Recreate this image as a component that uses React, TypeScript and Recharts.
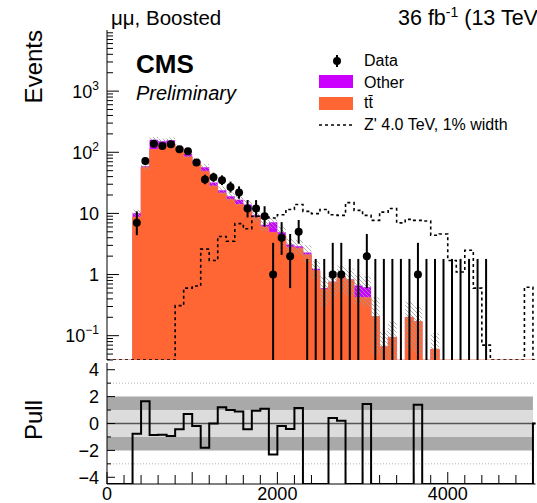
import {
  ComposedChart,
  Area,
  Line,
  Scatter,
  ErrorBar,
  XAxis,
  YAxis,
  ReferenceArea,
  ReferenceLine,
} from 'recharts';

// lower edges of the 100 GeV bins (last one is the overflow column at the frame)
const binLow = [
  0, 100, 200, 300, 400, 500, 600, 700, 800, 900,
  1000, 1100, 1200, 1300, 1400, 1500, 1600, 1700, 1800, 1900,
  2000, 2100, 2200, 2300, 2400, 2500, 2600, 2700, 2800, 2900,
  3000, 3100, 3200, 3300, 3400, 3500, 3600, 3700, 3800, 3900,
  4000, 4100, 4200, 4300, 4400, 4500, 4600, 4700, 4800, 4900, 5000,
];
const BIN_WIDTH = 100;

const ttbar = [
  0, 0, 0, 8.7, 57, 111, 130, 135, 113, 84,
  65, 49, 28, 21.5, 17, 14, 11, 8.7, 6.0, 4.9,
  4.35, 2.8, 2.7, 2.1, 1.16, 0.58, 0.75, 0.93, 0.82, 0.42,
  0.42, 0.205, 0.066, 0.094, 0, 0.2, 0.17, 0, 0.06, 0,
  0, 0, 0, 0, 0, 0, 0, 0, 0, 0, 0,
];
const other = [
  0, 0, 0, 1.4, 2, 50, 21, 22, 6, 10,
  7, 8, 4, 2.5, 2, 2.7, 3, 0.6, 0.5, 2.3,
  0.55, 0.3, 0.2, 0.2, 0.08, 0.02, 0.01, 0.01, 0.01, 0.24,
  0.2, 0, 0, 0, 0, 0, 0, 0, 0, 0,
  0, 0, 0, 0, 0, 0, 0, 0, 0, 0, 0,
];
// hatched systematic band around the stack
const bandHigh = [
  null, null, null, 11.5, 66, 178, 167, 174, 133, 105,
  81, 64, 36.5, 27.5, 22, 19.5, 16.5, 11.2, 7.9, 8.8,
  6.1, 3.9, 3.7, 3.0, 1.65, 0.95, 1.15, 1.4, 1.25, 1.0,
  0.93, 0.42, 0.12, 0.17, null, 0.36, 0.3, null, 0.11, null,
  null, null, null, null, null, null, null, null, null, null, null,
];
const bandLow = [
  null, null, null, 8.7, 52, 145, 136, 141, 106, 83,
  63, 50, 27.5, 20.5, 16, 14, 11.5, 7.4, 5.1, 5.6,
  3.7, 2.3, 2.1, 1.6, 0.85, 0.3, 0.4, 0.5, 0.45, 0.33,
  0.3, 0.05, 0.04, 0.04, null, 0.06, 0.05, null, 0.04, null,
  null, null, null, null, null, null, null, null, null, null, null,
];
const zPrime = [
  0, 0, 0, 0, 0, 0, 0, 0, 0.31, 0.6,
  0.65, 2.6, 1.7, 4.2, 3.5, 6.8, 5.6, 9.0, 8.7, 8.4,
  9.5, 11.6, 14, 10.8, 9.9, 11.6, 9.5, 9.3, 15, 11.2,
  9.3, 7.7, 10.5, 12, 7.0, 8.0, 7.7, 7.5, 4.4, 4.6,
  1.7, 1.1, 2.5, 0.6, 0.07, 0, 0, 0, 0, 0.62, 0,
];
const dataCounts = [
  null, null, null, 7, 72, 138, 127, 135, 112, 104,
  68, 36, 39, 35, 27, 22, 12, 12, 9, 1,
  4, 2, 5, 0, 0, 0, 1, 1, 0, 0,
  2, 0, 0, 0, 0, 0, 1, 0, 0, 0,
  0, 0, 0, 0, 0, null, null, null, null, null, null,
];
const dataLow = [
  null, null, null, 4.4, 63.5, 126.3, 115.8, 123.4, 101.4, 93.8,
  59.8, 30.0, 32.8, 29.1, 21.9, 17.4, 8.6, 8.6, 6.1, 0,
  2.1, 0.6, 3.2, 0, 0, 0, 0, 0, 0, 0,
  0.6, 0, 0, 0, 0, 0, 0, 0, 0, 0,
  0, 0, 0, 0, 0, null, null, null, null, null, null,
];
const dataHigh = [
  null, null, null, 10.8, 81.5, 150.3, 138.8, 147.1, 123.6, 115.2,
  77.3, 43.0, 46.3, 41.9, 33.1, 27.7, 16.5, 16.5, 13.1, 3.3,
  7.2, 4.6, 7.8, 1.8, 1.8, 1.8, 3.3, 3.3, 1.8, 1.8,
  4.6, 1.8, 1.8, 1.8, 1.8, 1.8, 3.3, 1.8, 1.8, 1.8,
  1.8, 1.8, 1.8, 1.8, 1.8, null, null, null, null, null, null,
];
// -4.5 = below the pad range
const pull = [
  -4.5, -4.5, -4.5, -0.76, 1.65, -0.85, -0.83, -0.93, -0.43, 0.7,
  -0.18, -1.8, 0.0, 1.2, 1.0, 0.9, -0.43, 0.95, 1.1, -2.3,
  -0.18, -0.4, 1.15, -4.5, -4.5, -4.5, 0.4, 0.2, -4.5, -4.5,
  1.45, -4.5, -4.5, -4.5, -4.5, -4.5, 1.4, -4.5, -4.5, -4.5,
  -4.5, -4.5, -4.5, -4.5, -4.5, -4.5, -4.5, -4.5, -4.5, -4.5, 0,
];

const xTicks = [
  0, 200, 400, 600, 800, 1000, 1200, 1400, 1600, 1800, 2000, 2200, 2400,
  2600, 2800, 3000, 3200, 3400, 3600, 3800, 4000, 4200, 4400, 4600, 4800, 5000,
];
const xLabels = [0, 2000, 4000];
const decades = [0.01, 0.1, 1, 10, 100, 1000];
const decadeLabels: Record<string, [string, string]> = {
  '0.1': ['10', '\u22121'],
  '1': ['1', ''],
  '10': ['10', ''],
  '100': ['10', '2'],
  '1000': ['10', '3'],
};
const pullTicks = [-4, -3, -2, -1, 0, 1, 2, 3, 4];

const X_MAX = 5030;
const Y_MIN = 0.04;
const Y_MAX = 10000;
const FONT = '"Liberation Sans", Arial, Helvetica, sans-serif';
const TT_COLOR = '#ff6633';
const OTHER_COLOR = '#cc00ff';

const logTicks = decades
  .flatMap((d) => [2, 3, 4, 5, 6, 7, 8, 9].map((m) => m * d).concat(d))
  .filter((v) => v >= Y_MIN && v <= Y_MAX)
  .sort((a, b) => a - b);

// histogram outline: one row at each edge of every bin
const rows = binLow.flatMap((lo, i) =>
  [lo, lo + BIN_WIDTH].map((x) => ({
    x,
    tt: ttbar[i],
    tot: ttbar[i] + other[i],
    bandLo: bandLow[i],
    bandHi: bandHigh[i],
    zp: zPrime[i],
    pull: pull[i],
  }))
);

const points = binLow
  .map((lo, i) => ({ x: lo + BIN_WIDTH / 2, n: dataCounts[i], lo: dataLow[i], hi: dataHigh[i] }))
  .filter((p) => p.n !== null);
const filledPoints = points
  .filter((p) => (p.n as number) > 0)
  .map((p) => ({ x: p.x, y: p.n, err: [(p.n as number) - Math.max(p.lo as number, Y_MIN), (p.hi as number) - (p.n as number)] }));
const emptyPoints = points
  .filter((p) => p.n === 0)
  .map((p) => ({ x: p.x, y: Y_MIN, err: [0, (p.hi as number) - Y_MIN] }));

const isDecade = (v: number) => decadeLabels[String(v)] !== undefined;

const LeftLogTick = ({ x, y, payload }: any) => {
  const lab = decadeLabels[String(payload.value)];
  return (
    <g>
      <line x1={x} x2={x + (lab ? 12 : 6)} y1={y} y2={y} stroke="#000" />
      {lab && (
        <text x={99} y={y + 6.5} textAnchor="end" fontFamily={FONT} fontSize={18} fill="#000">
          {lab[0]}
          {lab[1] && (
            <tspan dy={-8} fontSize={12}>
              {lab[1]}
            </tspan>
          )}
        </text>
      )}
    </g>
  );
};

const RightLogTick = ({ x, y, payload }: any) => (
  <line x1={x} x2={x - (isDecade(payload.value) ? 12 : 6)} y1={y} y2={y} stroke="#000" />
);

const BottomTick = (len: number, minorLen: number, labels: boolean) => ({ x, y, payload }: any) => (
  <g>
    <line x1={x} x2={x} y1={y} y2={y - (payload.value % 1000 === 0 ? len : minorLen)} stroke="#000" />
    {labels && xLabels.includes(payload.value) && (
      <text x={x} y={y + 16} textAnchor="middle" fontFamily={FONT} fontSize={18} fill="#000">
        {payload.value}
      </text>
    )}
  </g>
);

const TopTick = (len: number, minorLen: number) => ({ x, y, payload }: any) => (
  <line x1={x} x2={x} y1={y} y2={y + (payload.value % 1000 === 0 ? len : minorLen)} stroke="#000" />
);

const PullLeftTick = ({ x, y, payload }: any) => {
  const even = payload.value % 2 === 0;
  return (
    <g>
      <line x1={x} x2={x + (even ? 8 : 4)} y1={y} y2={y} stroke="#000" />
      {even && (
        <text x={99} y={y + 6.5} textAnchor="end" fontFamily={FONT} fontSize={18} fill="#000">
          {payload.value < 0 ? `\u2212${-payload.value}` : payload.value}
        </text>
      )}
    </g>
  );
};

const PullRightTick = ({ x, y, payload }: any) => (
  <line x1={x} x2={x - (payload.value % 2 === 0 ? 8 : 4)} y1={y} y2={y} stroke="#000" />
);

const DataDot = ({ cx, cy }: any) => <circle cx={cx} cy={cy} r={4} fill="#000" />;
const NoDot = () => <g />;

const axisCommon = {
  tickLine: false,
  tickSize: 0,
  tickMargin: 0,
  interval: 0 as const,
  axisLine: { stroke: '#000' },
};

const App = () => (
  <div style={{ position: 'absolute', left: 0, top: 0, width: 537, height: 503, background: '#fff', overflow: 'hidden' }}>
    <div style={{ position: 'absolute', left: 0, top: 0 }}>
      <ComposedChart width={537} height={363} data={rows} margin={{ top: 30, right: 1.5, bottom: 3, left: 0 }}>
        <defs>
          <pattern id="hatch" width={4} height={4} patternUnits="userSpaceOnUse">
            <path d="M-1,-1 L5,5 M-1,3 L1,5 M3,-1 L5,1" stroke="#9a9a9a" strokeWidth={0.8} />
          </pattern>
        </defs>
        <Area
          xAxisId="b"
          yAxisId="l"
          dataKey={(r: any) => Math.max(r.tot, Y_MIN)}
          baseValue={Y_MIN}
          fill={OTHER_COLOR}
          fillOpacity={1}
          stroke="none"
          isAnimationActive={false}
        />
        <Area
          xAxisId="b"
          yAxisId="l"
          dataKey={(r: any) => Math.max(r.tt, Y_MIN)}
          baseValue={Y_MIN}
          fill={TT_COLOR}
          fillOpacity={1}
          stroke="#f26d5b"
          strokeWidth={1}
          isAnimationActive={false}
        />
        <Area
          xAxisId="b"
          yAxisId="l"
          dataKey={(r: any) => (r.bandLo === null ? null : [r.bandLo, r.bandHi])}
          fill="url(#hatch)"
          fillOpacity={1}
          stroke="none"
          isAnimationActive={false}
        />
        <Line
          xAxisId="b"
          yAxisId="l"
          dataKey={(r: any) => Math.max(r.zp, Y_MIN)}
          stroke="#000"
          strokeWidth={1.6}
          strokeDasharray="3 3"
          dot={false}
          isAnimationActive={false}
        />
        <Scatter xAxisId="b" yAxisId="l" data={emptyPoints} dataKey="y" shape={NoDot} isAnimationActive={false}>
          <ErrorBar dataKey="err" direction="y" width={0} stroke="#000" strokeWidth={2} />
        </Scatter>
        <Scatter xAxisId="b" yAxisId="l" data={filledPoints} dataKey="y" shape={DataDot} isAnimationActive={false}>
          <ErrorBar dataKey="err" direction="y" width={0} stroke="#000" strokeWidth={2} />
        </Scatter>
        <XAxis
          {...axisCommon}
          xAxisId="b"
          dataKey="x"
          type="number"
          domain={[0, X_MAX]}
          allowDataOverflow
          ticks={xTicks}
          height={0}
          tick={BottomTick(12, 6, false)}
        />
        <XAxis
          {...axisCommon}
          xAxisId="t"
          orientation="top"
          dataKey="x"
          type="number"
          domain={[0, X_MAX]}
          allowDataOverflow
          ticks={xTicks}
          height={0}
          tick={TopTick(10, 5)}
        />
        <YAxis
          {...axisCommon}
          yAxisId="l"
          type="number"
          scale="log"
          domain={[Y_MIN, Y_MAX]}
          allowDataOverflow
          ticks={logTicks}
          width={107}
          tick={LeftLogTick}
        />
        <YAxis
          {...axisCommon}
          yAxisId="r"
          orientation="right"
          type="number"
          scale="log"
          domain={[Y_MIN, Y_MAX]}
          allowDataOverflow
          ticks={logTicks}
          width={0}
          tick={RightLogTick}
        />
      </ComposedChart>
    </div>
    <div style={{ position: 'absolute', left: 0, top: 353 }}>
      <ComposedChart width={537} height={150} data={rows} margin={{ top: 10, right: 1.5, bottom: 0, left: 0 }}>
        <ReferenceArea xAxisId="b" yAxisId="l" x1={0} x2={5000} y1={-2} y2={2} fill="#a9a9a9" fillOpacity={1} stroke="none" />
        <ReferenceArea xAxisId="b" yAxisId="l" x1={0} x2={5000} y1={-1} y2={1} fill="#dcdcdc" fillOpacity={1} stroke="none" />
        <ReferenceLine xAxisId="b" yAxisId="l" y={3} stroke="#b0b0b0" strokeDasharray="1 2" />
        <ReferenceLine xAxisId="b" yAxisId="l" y={-3} stroke="#b0b0b0" strokeDasharray="1 2" />
        <ReferenceLine xAxisId="b" yAxisId="l" y={0} stroke="#555" strokeWidth={1.3} />
        <Line
          xAxisId="b"
          yAxisId="l"
          dataKey="pull"
          stroke="#000"
          strokeWidth={2}
          dot={false}
          isAnimationActive={false}
        />
        <XAxis
          {...axisCommon}
          xAxisId="b"
          dataKey="x"
          type="number"
          domain={[0, X_MAX]}
          allowDataOverflow
          ticks={xTicks}
          height={19}
          tick={BottomTick(12, 9, true)}
        />
        <XAxis
          {...axisCommon}
          xAxisId="t"
          orientation="top"
          dataKey="x"
          type="number"
          domain={[0, X_MAX]}
          allowDataOverflow
          ticks={xTicks}
          height={0}
          tick={TopTick(12, 9)}
        />
        <YAxis
          {...axisCommon}
          yAxisId="l"
          type="number"
          domain={[-4.5, 4.5]}
          allowDataOverflow
          ticks={pullTicks}
          width={107}
          tick={PullLeftTick}
        />
        <YAxis
          {...axisCommon}
          yAxisId="r"
          orientation="right"
          type="number"
          domain={[-4.5, 4.5]}
          allowDataOverflow
          ticks={pullTicks}
          width={0}
          tick={PullRightTick}
        />
      </ComposedChart>
    </div>
    <svg
      width={537}
      height={503}
      style={{ position: 'absolute', left: 0, top: 0, pointerEvents: 'none' }}
      fontFamily={FONT}
    >
      <text x={111} y={25} fontSize={20.5}>
        {'\u03bc\u03bc, Boosted'}
      </text>
      <text x={398} y={25} fontSize={21.5}>
        36 fb
        <tspan dy={-8} fontSize={14}>
          -1
        </tspan>
        <tspan dy={8}> (13 TeV)</tspan>
      </text>
      <text x={136} y={73} fontSize={26} fontWeight="bold">
        CMS
      </text>
      <text x={136} y={100} fontSize={20} fontStyle="italic">
        Preliminary
      </text>

      <line x1={337} x2={337} y1={55} y2={67} stroke="#000" strokeWidth={2} />
      <circle cx={337} cy={61} r={4} fill="#000" />
      <text x={364} y={66} fontSize={16}>
        Data
      </text>
      <rect x={319} y={75} width={34} height={13} fill={OTHER_COLOR} />
      <text x={364} y={88} fontSize={16}>
        Other
      </text>
      <rect x={319} y={97} width={34} height={13} fill={TT_COLOR} />
      <text x={364} y={108} fontSize={16}>
        {'tt\u0304'}
      </text>
      <line x1={319} x2={353} y1={125} y2={125} stroke="#000" strokeWidth={1.6} strokeDasharray="3 3" />
      <text x={364} y={130} fontSize={16}>
        Z' 4.0 TeV, 1% width
      </text>

      <text transform="translate(42,30) rotate(-90)" textAnchor="end" fontSize={24}>
        Events
      </text>
      <text transform="translate(42,420) rotate(-90)" textAnchor="middle" fontSize={24}>
        Pull
      </text>
    </svg>
  </div>
);

export default App;
